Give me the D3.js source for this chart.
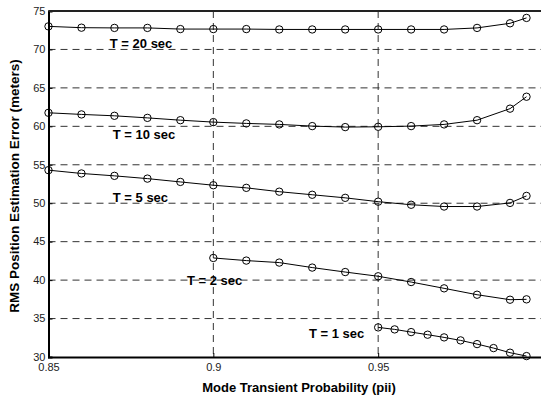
<!DOCTYPE html>
<html>
<head>
<meta charset="utf-8">
<script src="https://cdn.jsdelivr.net/npm/d3@7"></script>
<style>
  body { margin: 0; background: #fff; }
  svg { font-family: "Liberation Sans", Arial, sans-serif; }
  .grid line { stroke: #333; stroke-dasharray: 7,5; stroke-width: 1; }
  .tick text { fill: #222; font-size: 11px; }
</style>
</head>
<body>
<svg id="chart" width="541" height="399"></svg>
<script>
const xsA = [0.85, 0.86, 0.87, 0.88, 0.89, 0.90, 0.91, 0.92, 0.93, 0.94, 0.95, 0.96, 0.97, 0.98, 0.99, 0.995];
const xsB = [0.90, 0.91, 0.92, 0.93, 0.94, 0.95, 0.96, 0.97, 0.98, 0.99, 0.995];
const xsC = [0.95, 0.955, 0.96, 0.965, 0.97, 0.975, 0.98, 0.985, 0.99, 0.995];

const t20 = [73.0, 72.83, 72.8, 72.8, 72.65, 72.65, 72.65, 72.6, 72.6, 72.6, 72.6, 72.6, 72.6, 72.8, 73.4, 74.1];
const t10 = [61.76, 61.55, 61.37, 61.1, 60.8, 60.55, 60.38, 60.25, 60.03, 59.9, 59.94, 60.03, 60.25, 60.8, 62.3, 63.85];
const t5 = [54.3, 53.87, 53.56, 53.2, 52.77, 52.34, 52.0, 51.5, 51.1, 50.7, 50.2, 49.8, 49.57, 49.57, 50.04, 50.95];
const t2 = [42.88, 42.54, 42.28, 41.63, 41.05, 40.5, 39.75, 38.93, 38.1, 37.45, 37.5];
const t1 = [33.85, 33.59, 33.24, 32.9, 32.55, 32.16, 31.68, 31.16, 30.56, 30.12];

const xTicks = [0.85, 0.9, 0.95, 1];
const yTicks = [30, 35, 40, 45, 50, 55, 60, 65, 70, 75];

const series = [
  { name: 'T = 20 sec', xs: xsA, ys: t20, lx: 0.8686, ly: 70.8 },
  { name: 'T = 10 sec', xs: xsA, ys: t10, lx: 0.8695, ly: 58.9 },
  { name: 'T = 5 sec', xs: xsA, ys: t5, lx: 0.8695, ly: 50.7 },
  { name: 'T = 2 sec', xs: xsB, ys: t2, lx: 0.892, ly: 40.0 },
  { name: 'T = 1 sec', xs: xsC, ys: t1, lx: 0.929, ly: 33.1 }
];

const svg = d3.select('#chart');
const mLeft = 48.5, mRight = 543, mTop = 11, mBottom = 357;

const x = d3.scaleLinear().domain([0.85, 1]).range([mLeft, mRight]);
const y = d3.scaleLinear().domain([30, 75]).range([mBottom, mTop]);

// grid
svg.append('g').attr('class', 'grid')
  .selectAll('line').data(yTicks.filter(d => d > 30 && d < 75))
  .enter().append('line')
  .attr('x1', mLeft).attr('x2', mRight)
  .attr('y1', d => y(d)).attr('y2', d => y(d));
svg.append('g').attr('class', 'grid')
  .selectAll('line').data(xTicks.filter(d => d > 0.85 && d < 1))
  .enter().append('line')
  .attr('y1', mTop).attr('y2', mBottom)
  .attr('x1', d => x(d)).attr('x2', d => x(d));

// axes ("1" falls outside the window, as in the original, so no label there)
const xAxis = d3.axisBottom(x).tickValues(xTicks).tickSize(-4).tickPadding(6)
  .tickFormat(d => d === 1 ? '' : d3.format('')(d));
const gx = svg.append('g').attr('transform', 'translate(0,' + mBottom + ')').call(xAxis);
gx.select('.domain').attr('stroke', '#000').attr('stroke-width', 2);
gx.selectAll('.tick line').attr('stroke', '#000');

const yAxis = d3.axisLeft(y).tickValues(yTicks).tickSize(-4).tickPadding(3);
const gy = svg.append('g').attr('transform', 'translate(' + mLeft + ',0)').call(yAxis);
gy.select('.domain').attr('stroke', '#000').attr('stroke-width', 2);
gy.selectAll('.tick line').attr('stroke', '#000');
gy.selectAll('.tick text').attr('dy', '0.3em');

// top border
svg.append('line')
  .attr('x1', mLeft).attr('x2', mRight).attr('y1', mTop).attr('y2', mTop)
  .attr('stroke', '#222').attr('stroke-width', 2);

const line = d3.line().x(d => x(d[0])).y(d => y(d[1]));

series.forEach(s => {
  const pts = s.xs.map((v, i) => [v, s.ys[i]]);
  svg.append('path')
    .datum(pts)
    .attr('fill', 'none')
    .attr('stroke', '#000')
    .attr('stroke-width', 1)
    .attr('d', line);
  svg.append('g').selectAll('circle').data(pts)
    .enter().append('circle')
    .attr('cx', d => x(d[0])).attr('cy', d => y(d[1]))
    .attr('r', 3.7)
    .attr('fill', 'none')
    .attr('stroke', '#000')
    .attr('stroke-width', 1);
  svg.append('text')
    .attr('x', x(s.lx)).attr('y', y(s.ly))
    .attr('font-size', 13).attr('font-weight', 'bold')
    .attr('dy', '0.35em')
    .text(s.name);
});

// axis titles
svg.append('text')
  .attr('x', 299).attr('y', 392)
  .attr('text-anchor', 'middle')
  .attr('font-size', 13).attr('font-weight', 'bold')
  .text('Mode Transient Probability (pii)');

svg.append('text')
  .attr('transform', 'translate(19,186) rotate(-90)')
  .attr('text-anchor', 'middle')
  .attr('font-size', 13.5).attr('font-weight', 'bold')
  .text('RMS Position Estimation Error (meters)');
</script>
</body>
</html>
